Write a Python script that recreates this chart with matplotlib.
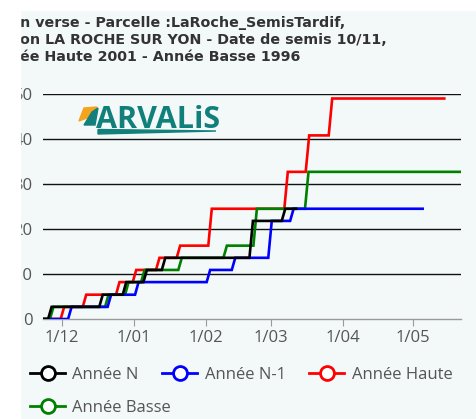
import matplotlib

matplotlib.use("Agg")
import matplotlib.pyplot as plt  # noqa: E402
from matplotlib.lines import Line2D  # noqa: E402
from matplotlib.patches import Polygon, Rectangle  # noqa: E402

plt.rcParams["font.family"] = ["Open Sans", "DejaVu Sans"]

BG = "#f3f8f9"
TEXT = "#555555"
TEAL = "#11807b"
W, H = 476, 419

# x = days counted from 1 November
tick_days = [30, 61, 92, 120, 151, 181]
tick_labels = ["1/12", "1/01", "1/02", "1/03", "1/04", "1/05"]

# series: start day, end day, day a step begins, level after the step
n_start, n_end = 22, 130.6
n_step_days = [24.0, 46.0, 56.1, 65.0, 72.9, 110.6, 124.5]
n_levels = [2.7, 5.4, 8.2, 10.9, 13.6, 21.8, 24.5]

n1_start, n1_end = 22, 185.1
n1_step_days = [32.6, 49.6, 61.4, 92.2, 103.0, 118.7, 128.1]
n1_levels = [2.7, 5.4, 8.2, 10.9, 13.6, 21.8, 24.5]

haute_start, haute_end = 22, 194.4
haute_step_days = [29.4, 38.9, 53.2, 60.4, 70.4, 79.3, 92.9, 125.6, 134.8, 144.7]
haute_levels = [2.7, 5.4, 8.2, 10.9, 13.6, 16.3, 24.5, 32.7, 40.8, 49.0]

basse_start, basse_end = 22, 201.6
basse_step_days = [24.8, 48.5, 57.1, 64.0, 80.0, 99.4, 112.3, 134.5]
basse_levels = [2.7, 5.4, 8.2, 10.9, 13.6, 16.3, 24.5, 32.7]

title_lines = [
    "n verse - Parcelle :LaRoche_SemisTardif,",
    "on LA ROCHE SUR YON - Date de semis 10/11,",
    "ée Haute 2001 - Année Basse 1996",
]

series = [
    ("Année N", "#000000", n_start, n_end, n_step_days, n_levels),
    ("Année N-1", "#0000ff", n1_start, n1_end, n1_step_days, n1_levels),
    ("Année Haute", "#ff0000", haute_start, haute_end, haute_step_days, haute_levels),
    ("Année Basse", "#008000", basse_start, basse_end, basse_step_days, basse_levels),
]
draw_order = [2, 3, 1, 0]
RISE = 1.5  # a step takes about one daily interval


def _step_path(start, end, days, levels):
    xs, ys = [start], [0.0]
    prev = 0.0
    for d, lv in zip(days, levels):
        xs += [d, d + RISE]
        ys += [prev, lv]
        prev = lv
    xs.append(end)
    ys.append(prev)
    return xs, ys


def fx(px):
    return px / W


def fy(py):
    return 1 - py / H


fig = plt.figure(figsize=(W / 100, H / 100), dpi=100, facecolor=BG)
ax = fig.add_axes([fx(43), fy(319), (461 - 43) / W, (319 - 94) / H])
ax.set_facecolor(BG)

for i in draw_order:
    name, color, start, end, days, levels = series[i]
    xs, ys = _step_path(start, end, days, levels)
    ax.plot(xs, ys, color=color, linewidth=1.9, solid_joinstyle="miter", zorder=3)

ax.set_xlim(21.8, 201.6)
ax.set_ylim(0, 50)
ax.set_yticks([0, 10, 20, 30, 40, 50])
ax.set_xticks(tick_days)
ax.set_xticklabels(tick_labels)
for s in ("top", "right", "left"):
    ax.spines[s].set_visible(False)
ax.spines["bottom"].set_color("#9a9a9a")
ax.spines["bottom"].set_linewidth(1.0)
ax.tick_params(axis="y", length=0, pad=7.5, labelsize=12, colors=TEXT)
ax.tick_params(axis="x", length=5, width=0.8, color="#9a9a9a", pad=3, labelsize=12, colors=TEXT)
for v in [10, 20, 30, 40, 50]:
    ax.axhline(v, color="#111111", linewidth=1.0, zorder=1)
ax.set_axisbelow(True)

# title (left part is cut off in the source image)
for k, line in enumerate(title_lines):
    fig.text(fx(20), fy(27.5 + 16.5 * k), line, ha="left", va="baseline",
             fontsize=10.3, fontweight="bold", color="#333333", family="DejaVu Sans")

# logo
fig.text(fx(96), fy(128), "ARVALiS", ha="left", va="baseline", fontsize=22,
         fontweight="bold", color=TEAL)
fig.patches.append(Polygon([(fx(98), fy(129.5)), (fx(216), fy(131)), (fx(98), fy(134))],
                           closed=True, color=TEAL, transform=fig.transFigure, figure=fig))
fig.patches.append(Polygon([(fx(84), fy(108)), (fx(97), fy(107)), (fx(92), fy(116)), (fx(79), fy(121))],
                           closed=True, color="#f5a41c", transform=fig.transFigure, figure=fig))
fig.patches.append(Polygon([(fx(92), fy(112)), (fx(98), fy(108)), (fx(95), fy(125)), (fx(84), fy(125))],
                           closed=True, color=TEAL, transform=fig.transFigure, figure=fig))

# legend
handles = [
    Line2D([], [], color=c, linewidth=2, marker="o", markersize=10,
           markerfacecolor="white", markeredgewidth=2)
    for _, c, *_ in series
]
names = [s[0] for s in series]
fig.legend(handles[:3], names[:3], loc="center left", bbox_to_anchor=(fx(30), fy(375)),
           ncol=3, frameon=False, fontsize=12, handlelength=2.1, handletextpad=0.45,
           columnspacing=1.4, labelcolor=TEXT, borderpad=0, borderaxespad=0)
fig.legend(handles[3:], names[3:], loc="center left", bbox_to_anchor=(fx(30), fy(408)),
           frameon=False, fontsize=12, handlelength=2.1, handletextpad=0.45,
           labelcolor=TEXT, borderpad=0, borderaxespad=0)

# white margins of the screenshot
fig.patches.append(Rectangle((0, 0), fx(20), 1, color="white", zorder=100,
                             transform=fig.transFigure, figure=fig))
fig.patches.append(Rectangle((0, fy(10)), 1, 10 / H, color="white", zorder=100,
                             transform=fig.transFigure, figure=fig))

fig.savefig("out.png", dpi=100, facecolor=BG)
